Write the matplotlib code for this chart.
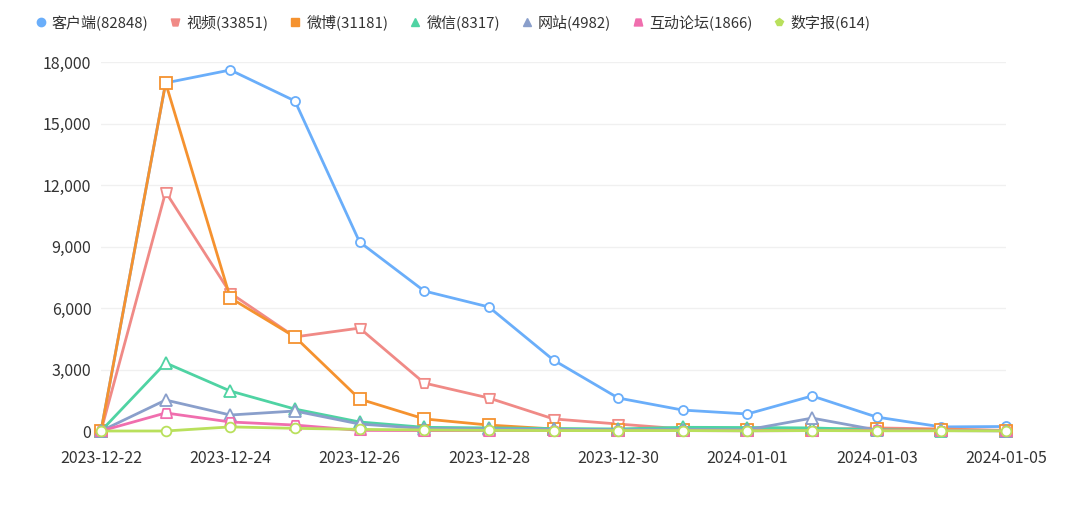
import numpy as np
import matplotlib
matplotlib.use("Agg")
import matplotlib.pyplot as plt
import matplotlib.dates as mdates
from matplotlib.path import Path
from matplotlib.lines import Line2D
from matplotlib.ticker import FuncFormatter, MultipleLocator
import pandas as pd

plt.rcParams['font.family'] = ['Noto Sans CJK SC', 'DejaVu Sans']

# === Data ===
dates = pd.date_range("2023-12-22", "2024-01-05", freq="D")

names = ['客户端', '视频', '微博', '微信', '网站', '互动论坛', '数字报']
totals = [82848, 33851, 31181, 8317, 4982, 1866, 614]

client = [0, 16980, 17610, 16100, 9220, 6830, 6050, 3460, 1610, 1020, 830, 1710, 680, 200, 220]
video = [0, 11660, 6730, 4590, 5020, 2340, 1610, 590, 340, 100, 50, 60, 150, 100, 30]
weibo = [0, 16980, 6490, 4590, 1560, 590, 290, 100, 60, 40, 30, 60, 90, 60, 20]
wechat = [0, 3320, 1950, 1070, 440, 180, 150, 120, 100, 180, 170, 150, 60, 20, 10]
website = [0, 1510, 780, 975, 340, 120, 100, 80, 60, 70, 60, 630, 50, 30, 20]
forum = [0, 880, 440, 290, 30, 20, 20, 20, 20, 20, 10, 20, 30, 20, 10]
epaper = [0, 0, 200, 130, 80, 50, 30, 20, 20, 20, 10, 20, 10, 10, 10]

series = [client, video, weibo, wechat, website, forum, epaper]
colors = ['#6aaefa', '#f08a86', '#f5922f', '#4fd3a3', '#8a9fcb', '#f06eae', '#b9e05c']

# trapezoid markers
trap_up = Path([(-0.6, -0.5), (0.6, -0.5), (0.35, 0.5), (-0.35, 0.5), (-0.6, -0.5)],
               [Path.MOVETO, Path.LINETO, Path.LINETO, Path.LINETO, Path.CLOSEPOLY])
trap_down = Path([(-0.35, -0.5), (0.35, -0.5), (0.6, 0.5), (-0.6, 0.5), (-0.35, -0.5)],
                 [Path.MOVETO, Path.LINETO, Path.LINETO, Path.LINETO, Path.CLOSEPOLY])
markers = ['o', trap_down, 's', '^', '^', trap_up, 'o']
msizes = [6.5, 8, 8, 8, 8, 8, 7]

fig = plt.figure(figsize=(10.8, 5.3), dpi=100)
ax = fig.add_axes([101 / 1080, 1 - 431 / 530, (1006 - 101) / 1080, (431 - 62) / 530])

for vals, c, m, ms in zip(series, colors, markers, msizes):
    ax.plot(dates, vals, color=c, lw=2, marker=m, ms=ms,
            markerfacecolor='white', markeredgecolor=c, markeredgewidth=1.3,
            clip_on=False, zorder=3)

ax.set_xlim(dates[0], dates[-1])
ax.set_ylim(0, 18000)
ax.yaxis.set_major_locator(MultipleLocator(3000))
ax.yaxis.set_major_formatter(FuncFormatter(lambda v, p: f"{int(v):,}"))
ax.xaxis.set_major_locator(mdates.DayLocator(interval=2))
ax.xaxis.set_major_formatter(mdates.DateFormatter("%Y-%m-%d"))

ax.grid(axis='y', color='#f0f0f0', lw=1)
ax.set_axisbelow(True)
for s in ax.spines.values():
    s.set_visible(False)
ax.tick_params(axis='both', length=0, labelsize=11.5, colors='#333333')
ax.tick_params(axis='x', pad=14)
ax.tick_params(axis='y', pad=7)

# legend
handles = []
leg_markers = ['o', trap_down, 's', '^', '^', trap_up, 'p']
for n, t, c, m in zip(names, totals, colors, leg_markers):
    handles.append(Line2D([], [], ls='none', marker=m, ms=6, color=c,
                          label=f"{n}({t})"))
fig.legend(handles=handles, loc='center left', bbox_to_anchor=(0.0195, 0.958),
           ncol=7, frameon=False, handlelength=0.8, handletextpad=0.36,
           columnspacing=1.37, fontsize=10.8, labelcolor='#333333')

fig.savefig("out.png", dpi=100, facecolor='white')
